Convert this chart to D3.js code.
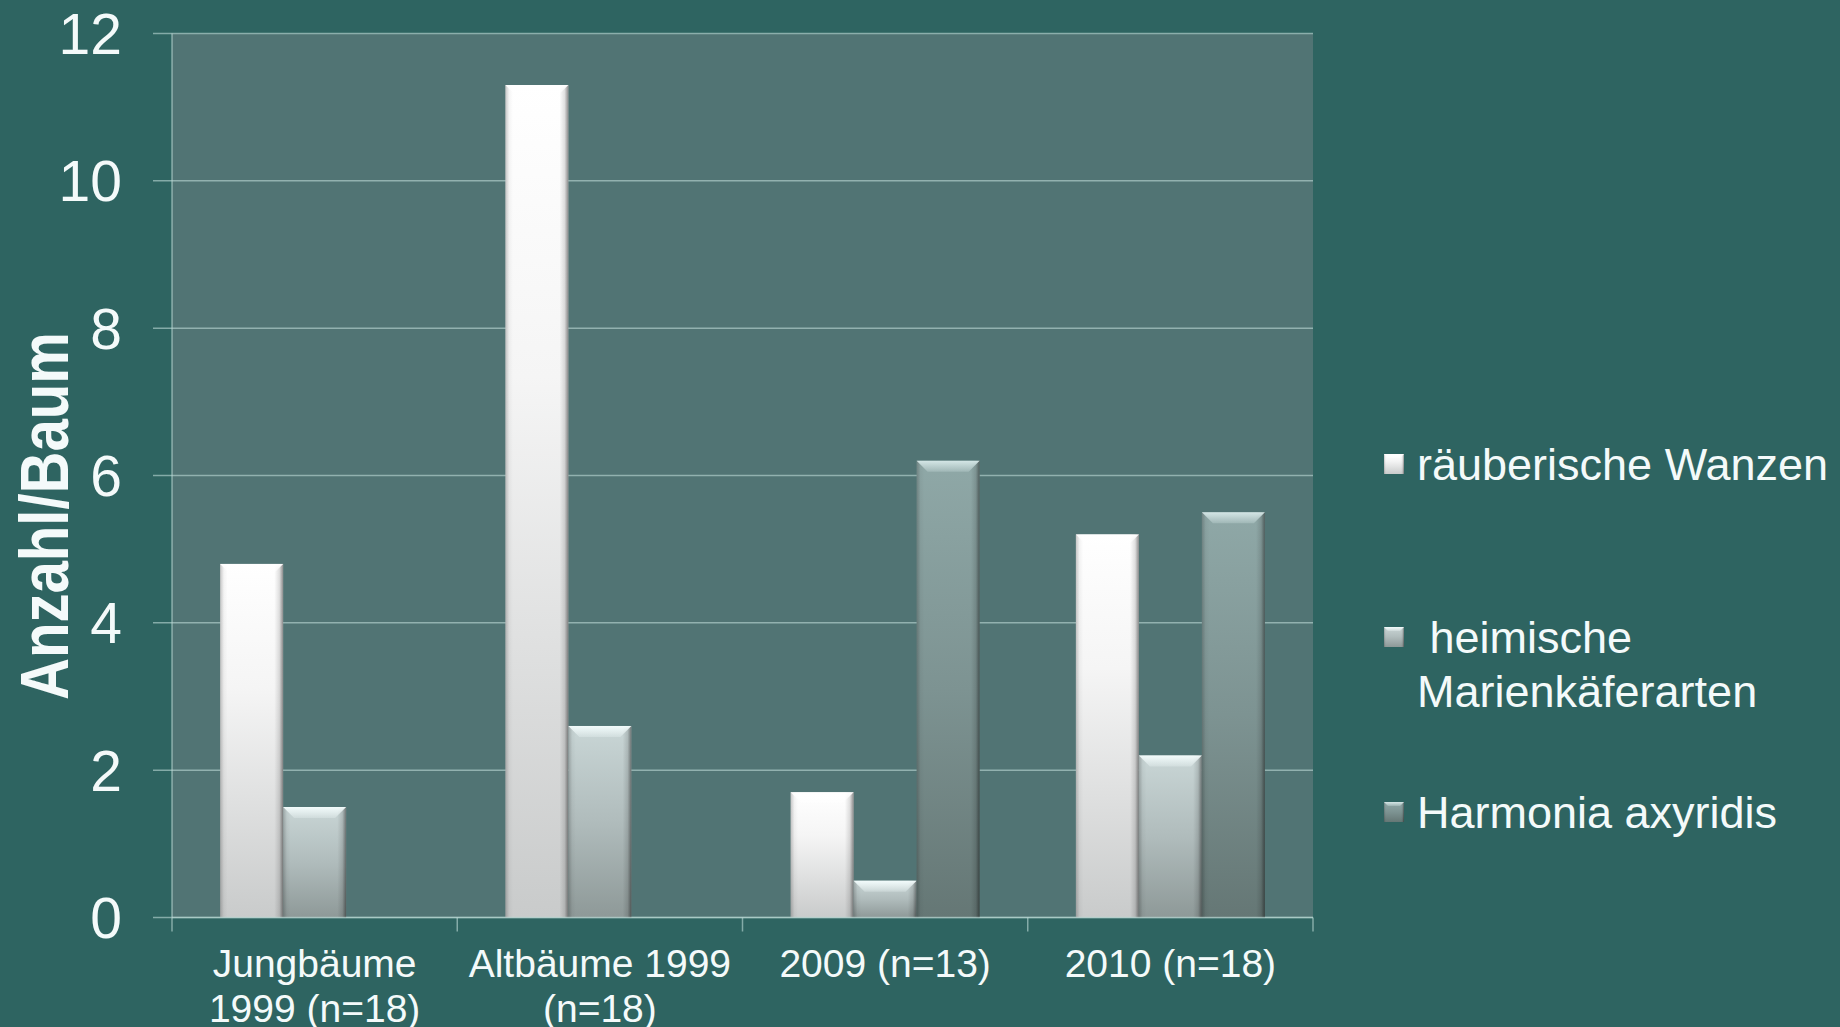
<!DOCTYPE html>
<html>
<head>
<meta charset="utf-8">
<script src="https://cdn.jsdelivr.net/npm/d3@7"></script>
<style>
  html, body { margin: 0; padding: 0; background: #2e6461; }
  svg { display: block; }
  text { font-family: "Liberation Sans", Arial, sans-serif; fill: #f4fafa; }
</style>
</head>
<body>
<svg id="chart" width="1840" height="1027"></svg>
<script>
// ---- data ----
const categories = [["Jungbäume", "1999 (n=18)"], ["Altbäume 1999", "(n=18)"], ["2009 (n=13)"], ["2010 (n=18)"]];
const seriesNames = ["räuberische Wanzen", " heimische|Marienkäferarten", "Harmonia axyridis"];
const wanzen     = [4.8, 11.3, 1.7, 5.2];
const marien     = [1.5, 2.6, 0.5, 2.2];
const harmonia   = [null, null, 6.2, 5.5];
const yTicks     = [0, 2, 4, 6, 8, 10, 12];

const seriesValues = [wanzen, marien, harmonia];

// ---- layout ----
const W = 1840, H = 1027;
const plot = { left: 172, right: 1313, top: 33.5, bottom: 917.5 };

const svg = d3.select("#chart");
const defs = svg.append("defs");

svg.append("rect").attr("width", W).attr("height", H).attr("fill", "#2e6461");

const catKeys = categories.map(c => c.join(" "));
const x0 = d3.scaleBand().domain(catKeys).range([plot.left, plot.right]).padding(0);
const x1 = d3.scaleBand().domain(d3.range(seriesNames.length)).range([0, x0.bandwidth()])
  .paddingInner(0).paddingOuter(0.764);
const y = d3.scaleLinear().domain([0, 12]).range([plot.bottom, plot.top]);

svg.append("rect")
  .attr("x", plot.left).attr("y", plot.top)
  .attr("width", plot.right - plot.left).attr("height", plot.bottom - plot.top)
  .attr("fill", "#517474");

// gradients
const vStops = [
  [["0%", "#ffffff"], ["35%", "#f5f5f5"], ["100%", "#c9cbcb"]],
  [["0%", "#c9d6d6"], ["50%", "#b0bcbc"], ["100%", "#8e9998"]],
  [["0%", "#8fa8a7"], ["50%", "#7d9392"], ["100%", "#657775"]]
];
vStops.forEach((stops, i) => {
  const g = defs.append("linearGradient").attr("id", "v" + i)
    .attr("x1", 0).attr("y1", 0).attr("x2", 0).attr("y2", 1);
  stops.forEach(s => g.append("stop").attr("offset", s[0]).attr("stop-color", s[1]));
});
const hg = defs.append("linearGradient").attr("id", "hshade")
  .attr("x1", 0).attr("y1", 0).attr("x2", 1).attr("y2", 0);
[["0%", "rgba(0,0,0,0.22)"], ["6%", "rgba(0,0,0,0.04)"], ["12%", "rgba(0,0,0,0)"],
 ["86%", "rgba(0,0,0,0)"], ["94%", "rgba(0,0,0,0.12)"], ["100%", "rgba(0,0,0,0.45)"]]
  .forEach(s => hg.append("stop").attr("offset", s[0]).attr("stop-color", s[1]));
const bevelColors = ["#ffffff", "#f2fbfb", "#d4e6e6"];
bevelColors.forEach((c, i) => {
  const g = defs.append("linearGradient").attr("id", "b" + i)
    .attr("x1", 0).attr("y1", 0).attr("x2", 0).attr("y2", 1);
  g.append("stop").attr("offset", "0%").attr("stop-color", c).attr("stop-opacity", 1);
  g.append("stop").attr("offset", "100%").attr("stop-color", c).attr("stop-opacity", 0.25);
});

// gridlines + y ticks
const gridColor = "rgba(190,218,215,0.6)";
svg.append("g").selectAll("line").data(yTicks).join("line")
  .attr("x1", plot.left - 19).attr("x2", plot.right)
  .attr("y1", d => y(d)).attr("y2", d => y(d))
  .attr("stroke", gridColor).attr("stroke-width", 1.5);

svg.append("line").attr("x1", plot.left).attr("x2", plot.left)
  .attr("y1", plot.top).attr("y2", plot.bottom)
  .attr("stroke", gridColor).attr("stroke-width", 1.5);

const xTickPos = catKeys.map(k => x0(k)).concat([plot.right]);
svg.append("g").selectAll("line").data(xTickPos).join("line")
  .attr("x1", d => d).attr("x2", d => d)
  .attr("y1", plot.bottom).attr("y2", plot.bottom + 14)
  .attr("stroke", gridColor).attr("stroke-width", 1.5);

svg.append("g").selectAll("text").data(yTicks).join("text")
  .attr("x", 122).attr("y", d => y(d)).attr("dy", "0.36em")
  .attr("text-anchor", "end").attr("font-size", 57)
  .text(d => d);

// bars
const bars = [];
catKeys.forEach((k, ci) => {
  seriesValues.forEach((vals, si) => {
    const v = vals[ci];
    if (v == null) return;
    bars.push({ cat: k, s: si, v });
  });
});
const gBars = svg.append("g");
gBars.selectAll("g.bar").data(bars).join("g").attr("class", "bar").each(function(d) {
  const g = d3.select(this);
  const bx = x0(d.cat) + x1(d.s), bw = x1.bandwidth();
  const by = y(d.v), bh = y(0) - y(d.v);
  g.append("rect").attr("x", bx).attr("y", by).attr("width", bw).attr("height", bh)
    .attr("fill", `url(#v${d.s})`);
  g.append("rect").attr("x", bx).attr("y", by).attr("width", bw).attr("height", bh)
    .attr("fill", "url(#hshade)");
  const b = Math.min(11, bh / 2);
  g.append("path")
    .attr("d", `M${bx},${by}L${bx + bw},${by}L${bx + bw - b},${by + b}L${bx + b},${by + b}Z`)
    .attr("fill", `url(#b${d.s})`);
});

svg.append("line").attr("x1", plot.left).attr("x2", plot.right)
  .attr("y1", plot.bottom).attr("y2", plot.bottom)
  .attr("stroke", gridColor).attr("stroke-width", 1.5);

// category labels
const catG = svg.append("g");
categories.forEach((lines, ci) => {
  const cx = x0(catKeys[ci]) + x0.bandwidth() / 2;
  const t = catG.append("text").attr("text-anchor", "middle").attr("font-size", 39);
  lines.forEach((ln, li) => {
    t.append("tspan").attr("x", cx).attr("y", 977 + li * 45).text(ln);
  });
});

// y axis title
svg.append("text")
  .attr("transform", "translate(68,516) rotate(-90)")
  .attr("text-anchor", "middle")
  .attr("font-size", 68).attr("font-weight", "bold")
  .attr("textLength", 368).attr("lengthAdjust", "spacingAndGlyphs")
  .text("Anzahl/Baum");

// legend
const legendY = [480, 653, 828];
const leg = svg.append("g");
seriesNames.forEach((name, i) => {
  const sy = legendY[i] - 26;
  leg.append("rect").attr("x", 1384).attr("y", sy).attr("width", 20).attr("height", 20)
    .attr("fill", `url(#v${i})`);
  leg.append("rect").attr("x", 1384).attr("y", sy).attr("width", 20).attr("height", 20)
    .attr("fill", "url(#hshade)");
  leg.append("path")
    .attr("d", `M1384,${sy}L1404,${sy}L1400,${sy + 4}L1388,${sy + 4}Z`)
    .attr("fill", `url(#b${i})`);
  const parts = name.split("|");
  const t = leg.append("text").attr("font-size", 45).attr("xml:space", "preserve")
    .style("white-space", "pre");
  parts.forEach((p, pi) => {
    t.append("tspan").attr("x", 1417).attr("y", legendY[i] + pi * 54).text(p);
  });
});
</script>
</body>
</html>
